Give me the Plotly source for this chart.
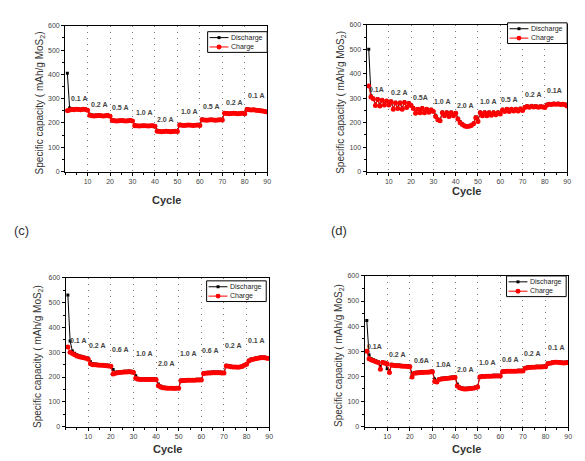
import plotly.graph_objects as go

cycles = list(range(1, 91))

a_discharge = [405, 262, 258, 257, 258, 257, 256, 258, 257, 255,
               236, 233, 232, 233, 233, 232, 231, 232, 233, 231,
               213, 211, 210, 211, 212, 211, 210, 211, 212, 210,
               192, 190, 189, 190, 191, 190, 189, 190, 191, 189,
               170, 167, 166, 167, 168, 167, 166, 167, 168, 167,
               195, 193, 192, 193, 194, 193, 192, 193, 194, 192,
               216, 214, 213, 214, 215, 214, 213, 214, 215, 214,
               243, 241, 240, 241, 242, 241, 240, 241, 242, 240,
               258, 256, 255, 256, 254, 253, 252, 251, 249, 247]
a_charge = [250, 253, 255, 254, 256, 255, 254, 256, 255, 252,
            232, 230, 229, 230, 231, 230, 229, 230, 231, 228,
            210, 209, 208, 209, 210, 209, 208, 209, 210, 208,
            189, 188, 187, 188, 189, 188, 187, 188, 189, 186,
            166, 165, 164, 165, 166, 165, 164, 165, 166, 165,
            192, 191, 190, 191, 192, 191, 190, 191, 192, 190,
            213, 212, 211, 212, 213, 212, 211, 212, 213, 212,
            240, 239, 238, 239, 240, 239, 238, 239, 240, 238,
            255, 254, 253, 254, 252, 251, 250, 249, 247, 245]

b_discharge = [500, 310, 300, 275, 298, 272, 294, 276, 290, 276,
               288, 258, 283, 262, 283, 258, 285, 265, 281, 272,
               262, 242, 258, 244, 261, 243, 258, 246, 255, 248,
               230, 215, 210, 243, 231, 243, 228, 243, 231, 241,
               218, 204, 195, 189, 187, 188, 191, 198, 223, 208,
               243, 231, 243, 231, 243, 233, 243, 235, 243, 238,
               255, 248, 258, 248, 258, 251, 258, 251, 259, 253,
               265, 269, 266, 270, 267, 269, 266, 268, 267, 265,
               275, 278, 277, 279, 278, 279, 277, 278, 276, 271]
b_charge = [350, 305, 298, 270, 295, 268, 292, 272, 288, 272,
            285, 255, 280, 258, 280, 255, 282, 262, 278, 270,
            258, 238, 255, 240, 258, 240, 255, 242, 252, 245,
            225, 212, 208, 240, 228, 240, 225, 240, 228, 238,
            215, 200, 192, 186, 184, 185, 188, 195, 220, 205,
            240, 228, 240, 228, 240, 230, 240, 232, 240, 235,
            252, 245, 255, 245, 255, 248, 255, 248, 256, 250,
            262, 266, 263, 267, 264, 266, 263, 265, 264, 262,
            272, 275, 274, 276, 275, 276, 274, 275, 273, 268]

c_discharge = [531, 345, 305, 296, 290, 286, 284, 281, 279, 276,
               262, 254, 253, 252, 251, 251, 250, 249, 248, 247,
               230, 219, 220, 221, 222, 223, 223, 224, 223, 221,
               205, 195, 193, 193, 193, 193, 193, 193, 193, 192,
               172, 164, 160, 159, 158, 158, 158, 157, 158, 158,
               188, 189, 189, 190, 190, 190, 190, 191, 191, 191,
               217, 218, 219, 219, 220, 220, 220, 220, 219, 219,
               248, 247, 245, 243, 243, 242, 243, 246, 251, 255,
               268, 273, 275, 277, 279, 281, 281, 281, 279, 278]
c_charge = [321, 300, 295, 290, 285, 282, 280, 278, 276, 272,
            254, 250, 250, 249, 248, 248, 247, 246, 245, 244,
            212, 215, 217, 218, 219, 220, 220, 221, 220, 218,
            195, 191, 190, 190, 190, 190, 190, 190, 190, 189,
            165, 160, 157, 156, 155, 155, 155, 154, 155, 155,
            185, 186, 186, 187, 187, 187, 187, 188, 188, 188,
            214, 215, 216, 216, 217, 217, 217, 217, 216, 216,
            245, 244, 242, 240, 240, 239, 240, 243, 248, 252,
            265, 270, 272, 274, 276, 278, 278, 278, 276, 275]

d_discharge = [423, 285, 270, 266, 262, 259, 240, 258, 256, 230,
               222, 248, 246, 245, 245, 244, 243, 243, 242, 241,
               210, 215, 216, 217, 218, 218, 219, 219, 220, 221,
               190, 182, 191, 193, 194, 195, 196, 197, 198, 199,
               170, 158, 155, 153, 153, 154, 155, 156, 158, 161,
               201, 203, 203, 204, 204, 204, 205, 205, 205, 205,
               221, 222, 223, 223, 223, 223, 223, 224, 224, 224,
               235, 237, 238, 239, 239, 240, 240, 240, 241, 241,
               253, 255, 257, 259, 259, 258, 257, 256, 257, 258]
d_charge = [300, 270, 265, 262, 258, 255, 228, 255, 252, 250,
            215, 245, 243, 242, 242, 241, 240, 240, 239, 238,
            198, 212, 213, 214, 215, 215, 216, 216, 217, 218,
            180, 178, 188, 190, 191, 192, 193, 194, 195, 196,
            162, 155, 152, 150, 150, 151, 152, 153, 155, 158,
            198, 200, 200, 201, 201, 201, 202, 202, 202, 202,
            218, 219, 220, 220, 220, 220, 220, 221, 221, 221,
            232, 234, 235, 236, 236, 237, 237, 237, 238, 238,
            250, 252, 254, 256, 256, 255, 254, 253, 254, 255]

# rate labels: text, cycle position, capacity position
a_labels = ["0.1 A", "0.2 A", "0.5 A", "1.0 A", "2.0 A", "1.0 A", "0.5 A", "0.2 A", "0.1 A"]
a_label_x = [6, 15, 24.6, 35, 44.5, 55, 65, 75, 85]
a_label_y = [301, 274, 263, 243, 213, 247, 268, 284, 311]

b_labels = ["0.1A", "0.2 A", "0.5A", "1.0 A", "2.0 A", "1.0 A", "0.5 A", "0.2 A", "0.1A"]
b_label_x = [4.5, 14.5, 24, 34, 44, 54.5, 64, 74.5, 84.5]
b_label_y = [335, 322, 304, 288, 268, 288, 295, 315, 331]

c_labels = ["0.1 A", "0.2 A", "0.6 A", "1.0 A", "2.0 A", "1.0 A", "0.6 A", "0.2 A", "0.1 A"]
c_label_x = [5.3, 13.8, 24, 34.5, 44.5, 54.3, 64, 74, 84]
c_label_y = [348, 328, 311, 295, 255, 295, 308, 328, 348]

d_labels = ["0.1A", "0.2 A", "0.6A", "1.0A", "2.0 A", "1.0 A", "0.6 A", "0.2 A", "0.1 A"]
d_label_x = [4.5, 14.2, 25, 34.7, 44.2, 54, 64.3, 74.2, 84.5]
d_label_y = [318, 288, 263, 246, 227, 257, 266, 292, 315]

x_ticks = [10, 20, 30, 40, 50, 60, 70, 80, 90]
y_ticks = [0, 100, 200, 300, 400, 500, 600]
series_names = ["Discharge", "Charge"]

W, H = 585, 461
# panel boxes in pixels: (left, right, top, bottom); legend box top-right corner
panels = [
    dict(box=(57.5, 261, 14, 162), dis=a_discharge, chg=a_charge,
         lt=a_labels, lx=a_label_x, ly=a_label_y, ytx=32, xty=191, leg=(261, 20)),
    dict(box=(361, 563, 13, 162), dis=b_discharge, chg=b_charge,
         lt=b_labels, lx=b_label_x, ly=b_label_y, ytx=335, xty=182, leg=(563, 11)),
    dict(box=(58, 263, 270, 421), dis=c_discharge, chg=c_charge,
         lt=c_labels, lx=c_label_x, ly=c_label_y, ytx=30, xty=444, leg=(260, 273)),
    dict(box=(359, 564, 268, 421), dis=d_discharge, chg=d_charge,
         lt=d_labels, lx=d_label_x, ly=d_label_y, ytx=333, xty=444, leg=(562, 268)),
]

FONT = "Liberation Sans, Arial, sans-serif"
fig = go.Figure()
layout = dict(width=W, height=H, margin=dict(l=0, r=0, t=0, b=0),
              paper_bgcolor="white", plot_bgcolor="white", showlegend=False)
annotations = []
shapes = []


def px(x):
    return x / W


def py(y):
    return 1 - y / H


for i, p in enumerate(panels):
    n = "" if i == 0 else str(i + 1)
    xa, ya = "x" + n, "y" + n
    l, r, t, b = p["box"]
    fig.add_trace(go.Scatter(x=cycles, y=p["dis"], name=series_names[0], mode="lines+markers",
                             line=dict(color="black", width=1),
                             marker=dict(symbol="square", size=3, color="black"),
                             xaxis=xa, yaxis=ya))
    fig.add_trace(go.Scatter(x=cycles, y=p["chg"], name=series_names[1], mode="lines+markers",
                             line=dict(color="#ff0000", width=1),
                             marker=dict(symbol="circle", size=5, color="#ff0000"),
                             xaxis=xa, yaxis=ya))
    common = dict(showline=True, linecolor="black", linewidth=1, mirror=True,
                  ticks="outside", ticklen=3, tickcolor="black", zeroline=False,
                  tickfont=dict(size=7, color="#444", family=FONT))
    layout["xaxis" + n] = dict(domain=[l / W, r / W], anchor=ya, range=[0, 90],
                               tickvals=x_ticks, showgrid=True, gridcolor="#777",
                               griddash="1px,5px", gridwidth=1,
                               minor=dict(ticks="outside", ticklen=2, dtick=5, tickcolor="black"),
                               **common)
    layout["yaxis" + n] = dict(domain=[1 - b / H, 1 - t / H], anchor=xa, range=[0, 600],
                               tickvals=y_ticks, showgrid=False,
                               minor=dict(ticks="outside", ticklen=2, dtick=50, tickcolor="black"),
                               **common)
    # compact legend box
    lr, lt = p["leg"]
    lw, lh = 60, 21
    shapes.append(dict(type="rect", xref="paper", yref="paper",
                       x0=px(lr - lw), x1=px(lr), y0=py(lt + lh), y1=py(lt),
                       line=dict(color="black", width=1), fillcolor="white", layer="above"))
    for k, (nm, col, sym) in enumerate([(series_names[0], "black", "sq"),
                                        (series_names[1], "#ff0000", "ci")]):
        yy = lt + 6 + k * 9.5
        shapes.append(dict(type="line", xref="paper", yref="paper",
                           x0=px(lr - lw + 2), x1=px(lr - lw + 21), y0=py(yy), y1=py(yy),
                           line=dict(color=col, width=1), layer="above"))
        cx = lr - lw + 11.5
        s = 1.5 if sym == "sq" else 2.5
        shapes.append(dict(type="rect" if sym == "sq" else "circle", xref="paper", yref="paper",
                           x0=px(cx - s), x1=px(cx + s), y0=py(yy + s), y1=py(yy - s),
                           line=dict(color=col, width=0), fillcolor=col, layer="above"))
        annotations.append(dict(x=px(lr - lw + 22), y=py(yy), xref="paper", yref="paper",
                                text=nm, showarrow=False, xanchor="left", yanchor="middle",
                                font=dict(size=7, color="#222", family=FONT)))
    for txt, cx, cy in zip(p["lt"], p["lx"], p["ly"]):
        annotations.append(dict(x=cx, y=cy, xref=xa, yref=ya, text=txt, showarrow=False,
                                xanchor="center", yanchor="middle",
                                font=dict(size=7, color="#444", family=FONT, weight="bold")))
    annotations.append(dict(x=(l + r) / 2 / W, y=py(p["xty"]), xref="paper", yref="paper",
                            text="Cycle", showarrow=False, xanchor="center", yanchor="middle",
                            font=dict(size=11, color="#333", family=FONT, weight="bold")))
    annotations.append(dict(x=px(p["ytx"]), y=py((t + b) / 2 + 4), xref="paper", yref="paper",
                            text="Specific capacity ( mAh/g MoS<sub>2</sub>)", textangle=-90,
                            xanchor="center", yanchor="middle",
                            showarrow=False, font=dict(size=10, color="#333", family=FONT)))

annotations.append(dict(x=px(14), y=py(222), xref="paper", yref="paper", text="(c)",
                        xanchor="center", yanchor="middle",
                        showarrow=False, font=dict(size=13, color="#333", family=FONT)))
annotations.append(dict(x=px(333), y=py(222), xref="paper", yref="paper", text="(d)",
                        xanchor="center", yanchor="middle",
                        showarrow=False, font=dict(size=13, color="#333", family=FONT)))
layout["annotations"] = annotations
layout["shapes"] = shapes
fig.update_layout(**layout)
fig.write_html("out.html")
